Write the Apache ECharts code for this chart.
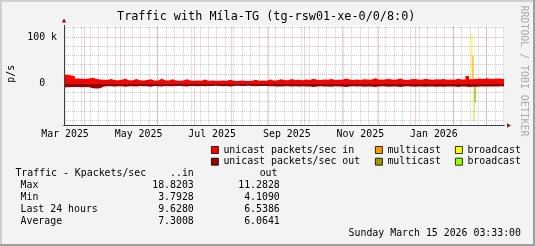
<!DOCTYPE html>
<html><head><meta charset="utf-8">
<script src="https://cdn.jsdelivr.net/npm/echarts@6/dist/echarts.min.js"></script>
<style>html,body{margin:0;padding:0;background:#F3F3F3}#c{width:535px;height:246px}</style>
</head><body><div id="c"></div>
<script>
const FONT = '"DejaVu Sans Mono", monospace';
const DAY = 86400000;
const startUTC = Date.UTC(2025, 2, 15, 3, 33);
const endUTC = Date.UTC(2026, 2, 15, 3, 33);
const toDay = ms => (ms - startUTC) / DAY;
const spanDays = toDay(endUTC);

// ---- data (kpackets/sec), one sample every 3 days from start ----
const sampleStepDays = 3;
const unicastIn = [
 18.8,16.9,15.2,10.6,10.1,9.7,10.4,12.1,9.2,8.6,
 8.0,7.4,9.3,7.1,6.8,7.6,10.2,7.0,6.5,9.6,
 6.9,6.3,7.2,8.8,6.4,6.1,9.9,6.6,6.0,8.7,
 6.2,5.8,6.4,9.1,6.0,5.7,6.3,5.9,8.4,5.6,
 6.1,5.5,5.9,6.2,5.4,8.0,5.8,5.3,6.0,5.6,
 5.2,5.9,7.9,5.5,6.1,5.7,8.6,6.4,7.0,8.9,
 7.2,6.8,9.6,7.4,7.9,6.9,8.3,7.5,10.1,7.7,
 7.1,8.2,7.6,9.4,7.3,8.0,7.8,10.6,8.4,7.5,
 8.1,7.4,9.0,8.6,7.7,10.8,8.2,7.6,8.8,9.2,
 7.9,8.3,10.3,8.0,7.5,8.7,9.5,8.1,7.8,9.9,
 8.4,7.7,8.9,8.2,9.6,7.9,8.5,8.0,10.2,8.3,
 8.6,15.8,8.8,9.4,10.3,9.7,10.9,9.5,10.1,10.6,9.8,9.6
];
const unicastOut = [
 8.2,8.0,7.8,7.9,8.3,8.1,8.6,10.6,11.3,10.4,
 7.0,6.4,6.2,6.6,6.1,6.3,7.4,6.0,6.2,6.5,
 5.9,6.1,6.4,7.2,5.8,6.0,6.6,5.7,6.1,6.3,
 5.9,5.6,6.0,6.8,5.7,5.5,6.2,5.8,6.4,5.6,
 5.9,5.4,5.7,6.1,5.5,6.6,5.6,5.3,5.9,5.5,
 5.4,5.8,6.3,5.6,5.9,5.7,6.2,6.0,6.5,6.8,
 6.3,6.1,7.0,6.4,6.7,6.2,6.9,6.5,7.6,6.6,
 6.4,6.8,6.5,7.3,6.3,6.7,6.6,7.8,6.9,6.4,
 6.7,6.3,7.1,6.8,6.5,7.9,6.9,6.4,7.0,7.2,
 6.6,6.9,7.7,6.7,6.4,7.0,7.4,6.8,6.5,7.5,
 6.9,6.5,7.1,6.8,7.3,6.6,7.0,6.7,7.8,6.9,
 7.0,8.1,7.1,7.3,6.8,6.6,7.0,6.5,6.7,6.9,6.4,6.5
];
// a single short burst of multicast / broadcast (Feb 2026); none elsewhere
const spikeDay = 339.7;
const spikeUnicastIn = 9.8, spikeMulticastIn = 49.0, spikeBroadcastIn = 48.5;
const spikeUnicastOut = 7.0, spikeMulticastOut = 34.0, spikeBroadcastOut = 40.7;

const xLabelMonths = [[2025,2],[2025,4],[2025,6],[2025,8],[2025,10],[2026,0]];
const monthNames = ['Jan','Feb','Mar','Apr','May','Jun','Jul','Aug','Sep','Oct','Nov','Dec'];
const yLabelValues = [0, 100];
const yMinorGrid = [-80,-60,-40,-20,20,40,60,80,120];
const yMajorGrid = [0, 100];

const statRows = ['Max','Min','Last 24 hours','Average'];
const statIn = ['18.8203','3.7928','9.6280','7.3008'];
const statOut = ['11.2828','4.1090','6.5386','6.0641'];

const COLORS = {
  uin:'#FF0000', min:'#FF9900', bin:'#FFFF00',
  uout:'#990000', mout:'#999900', bout:'#99FF00'
};

// ---- layout of the plot ----
const G = {left:64, width:440, top:25.5, height:100};
const Y_MIN = -91, Y_MAX = 125;

// ---- build series data ----
const build = (regular, sign) => {
  const out = regular.map((v, i) => [i * sampleStepDays, sign * v]);
  out.push([spanDays, sign * regular[regular.length - 1]]);
  return out;
};

// grid lines (snapped to pixel centres so the dotted lines stay crisp)
const snapX = d => { const k = G.width / spanDays; return (Math.floor(G.left + d * k) + 0.5 - G.left) / k; };
const snapY = v => { const k = G.height / (Y_MAX - Y_MIN); const px = G.top + (Y_MAX - v) * k; return Y_MAX - (Math.floor(px) + 0.5 - G.top) / k; };
const minorX = [], majorX = [];
for (let t = Date.UTC(2025,2,16); t < endUTC; t += 7*DAY) minorX.push(toDay(t));
for (let m = 3; m <= 14; m++) majorX.push(toDay(Date.UTC(2025, m, 1)));
const minorStyle = {color:'rgba(128,128,128,0.42)', width:1, type:[1,1]};
const majorStyle = {color:'rgba(222,70,70,0.5)', width:1, type:[1,1]};
const gridLines = [].concat(
  minorX.map(v => ({xAxis:snapX(v), lineStyle:minorStyle})),
  yMinorGrid.map(v => ({yAxis:snapY(v), lineStyle:minorStyle})),
  majorX.map(v => ({xAxis:snapX(v), lineStyle:majorStyle})),
  yMajorGrid.map(v => ({yAxis:snapY(v), lineStyle:majorStyle}))
);

function areaSeries(name, color, data, z) {
  return {
    name, type:'line', step:'end', data, symbol:'none', z,
    xAxisIndex:0, yAxisIndex:0, animation:false,
    lineStyle:{width:0, color}, itemStyle:{color}, areaStyle:{color, opacity:1, origin:0}
  };
}
function spikeBar(name, color, value, z) {
  return {
    name, type:'bar', data:[[snapX(spikeDay), value]], barWidth:1, z,
    xAxisIndex:0, yAxisIndex:0, animation:false, silent:true, itemStyle:{color}
  };
}

const series = [
  {type:'line', data:[], silent:true, z:1, xAxisIndex:0, yAxisIndex:0,
   markLine:{silent:true, symbol:'none', animation:false, label:{show:false}, data:gridLines}},
  spikeBar('broadcast in', COLORS.bin, spikeUnicastIn + spikeMulticastIn + spikeBroadcastIn, 3),
  spikeBar('multicast in', COLORS.min, spikeUnicastIn + spikeMulticastIn, 4),
  spikeBar('broadcast out', COLORS.bout, -(spikeUnicastOut + spikeMulticastOut + spikeBroadcastOut), 3),
  spikeBar('multicast out', COLORS.mout, -(spikeUnicastOut + spikeMulticastOut), 4),
  areaSeries('unicast packets/sec in', COLORS.uin, build(unicastIn, 1), 5),
  areaSeries('unicast packets/sec out', COLORS.uout, build(unicastOut, -1), 5)
];

const txt = {fontFamily:FONT, fontSize:9.9, color:'#000'};
function legendAt(name, label, left, top) {
  return {
    data:[name], left, top, padding:0, itemWidth:7, itemHeight:7, icon:'rect',
    selectedMode:false, formatter:() => label,
    itemStyle:{borderColor:'#000', borderWidth:0.8},
    textStyle:Object.assign({lineHeight:12}, txt)
  };
}
const legends = [
  legendAt('unicast packets/sec in','unicast packets/sec in',211,144),
  legendAt('multicast in','multicast',375,144),
  legendAt('broadcast in','broadcast',455,144),
  legendAt('unicast packets/sec out','unicast packets/sec out',211,155.7),
  legendAt('multicast out','multicast',375,155.7),
  legendAt('broadcast out','broadcast',455,155.7)
];

function T(x, y, text, align) {
  return {type:'text', silent:true, x, y, style:{
    text, fill:'#000', font:'9.9px ' + FONT, textAlign:align || 'left', textVerticalAlign:'middle'}};
}
const graphics = [
  {type:'rect', silent:true, shape:{x:0,y:0,width:535,height:2}, style:{fill:'#CFCFCF'}},
  {type:'rect', silent:true, shape:{x:0,y:0,width:2,height:246}, style:{fill:'#CFCFCF'}},
  {type:'rect', silent:true, shape:{x:533,y:0,width:2,height:246}, style:{fill:'#9E9E9E'}},
  {type:'rect', silent:true, shape:{x:0,y:244,width:535,height:2}, style:{fill:'#9E9E9E'}},
  {type:'text', silent:true, x:266.2, y:17.3, style:{text:'Traffic with Míla-TG (tg-rsw01-xe-0/0/8:0)',
    fill:'#000', font:'11.8px ' + FONT, textAlign:'center', textVerticalAlign:'middle'}},
  {type:'text', silent:true, x:11.2, y:73.8, rotation:Math.PI/2, style:{text:'p/s',
    fill:'#000', font:'9.9px ' + FONT, textAlign:'center', textVerticalAlign:'middle'}},
  {type:'text', silent:true, x:523.3, y:71, rotation:-Math.PI/2, style:{text:'RRDTOOL / TOBI OETIKER',
    fill:'#ABABAB', font:'9.9px ' + FONT, textAlign:'center', textVerticalAlign:'middle'}},
  T(15.4, 173.7, 'Traffic - Kpackets/sec'),
  T(193.8, 173.7, '..in', 'right'),
  T(277.5, 173.7, 'out', 'right'),
  T(521, 233.7, 'Sunday March 15 2026 03:33:00', 'right')
];
const rowY = [185.3, 197.5, 209.6, 221.7];
statRows.forEach((r, i) => {
  graphics.push(T(20.5, rowY[i], r));
  graphics.push(T(193.8, rowY[i], statIn[i], 'right'));
  graphics.push(T(279.8, rowY[i], statOut[i], 'right'));
});

const chart = echarts.init(document.getElementById('c'), null, {renderer:'canvas'});
chart.setOption({
  backgroundColor:'#F3F3F3',
  animation:false,
  grid:Object.assign({show:true, backgroundColor:'#FFFFFF', borderWidth:0}, G),
  xAxis:[
    {type:'value', position:'bottom', min:0, max:spanDays, z:7,
     axisLine:{onZero:false, lineStyle:{color:'#404040', width:1}},
     axisTick:{show:false}, splitLine:{show:false},
     axisLabel:{customValues:xLabelMonths.map(([y,m]) => toDay(Date.UTC(y,m,1)) + 15),
       formatter:v => { const d = new Date(startUTC + v*DAY); return monthNames[d.getUTCMonth()] + ' ' + d.getUTCFullYear(); },
       margin:3, lineHeight:12, fontFamily:FONT, fontSize:9.9, color:'#000'}},
    {type:'value', position:'bottom', min:0, max:spanDays, z:6, axisLabel:{show:false}, axisTick:{show:false}, splitLine:{show:false},
     axisLine:{onZero:false, lineStyle:{color:'#801F1F', width:1}, symbol:['none','triangle'], symbolSize:[4.5,4], symbolOffset:[0,5]}}
  ],
  yAxis:[
    {type:'value', position:'left', min:Y_MIN, max:Y_MAX, z:7,
     axisLine:{onZero:false, show:true, lineStyle:{color:'#404040', width:1}},
     axisTick:{show:false}, splitLine:{show:false},
     axisLabel:{customValues:yLabelValues, formatter:v => v === 100 ? '100 k' : '0  ',
       margin:7, fontFamily:FONT, fontSize:9.9, color:'#000'}},
    {type:'value', position:'left', min:Y_MIN, max:Y_MAX, z:6, axisLabel:{show:false}, axisTick:{show:false}, splitLine:{show:false},
     axisLine:{onZero:false, show:true, lineStyle:{color:'#801F1F', width:1}, symbol:['none','triangle'], symbolSize:[4.5,4], symbolOffset:[0,5]}}
  ],
  legend:legends,
  series,
  graphic:graphics
});
</script></body></html>
